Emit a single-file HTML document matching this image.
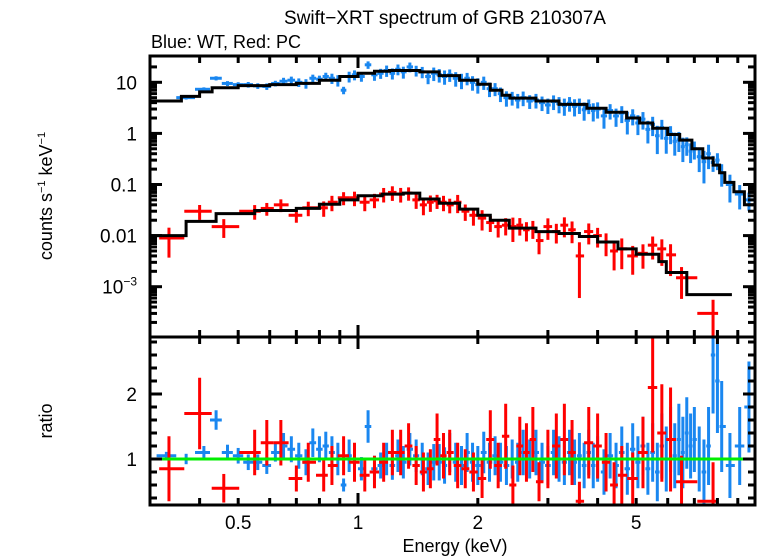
<!DOCTYPE html>
<html><head><meta charset="utf-8"><style>
body{margin:0;background:#fff}
svg{display:block;font-family:"Liberation Sans",sans-serif}
</style></head><body>
<svg id="chart" width="758" height="556" viewBox="0 0 758 556" xmlns="http://www.w3.org/2000/svg">
<defs><clipPath id="c1"><rect x="150" y="56" width="605" height="281"/></clipPath><clipPath id="c2"><rect x="150" y="337" width="605" height="168"/></clipPath></defs>
<text x="445" y="24" font-size="19" text-anchor="middle">Swift−XRT spectrum of GRB 210307A</text>
<text x="151" y="48" font-size="18">Blue: WT, Red: PC</text>
<text transform="translate(52,196) rotate(-90)" font-size="18" text-anchor="middle">counts s<tspan font-size="11" dy="-7">−1</tspan><tspan dy="7"> keV</tspan><tspan font-size="11" dy="-7">−1</tspan></text>
<text transform="translate(52,421) rotate(-90)" font-size="18" text-anchor="middle">ratio</text>
<text x="455" y="552" font-size="18" text-anchor="middle">Energy (keV)</text>
<g id="g"></g>
</svg>
<script>
// ---- data ----
const blueE=[0.33,0.37,0.41,0.44,0.47,0.50,0.53,0.56,0.59,0.62,0.65,0.68,0.71,0.74,0.77,0.80,0.83,0.86,0.89,0.92,0.95,0.98,1.02,1.06,1.10,1.14,1.18,1.22,1.26,1.30,1.35,1.40,1.45,1.50,1.55,1.60,1.65,1.70,1.76,1.82,1.88,1.94,2.0,2.07,2.14,2.21,2.28,2.36,2.44,2.52,2.6,2.7,2.8,2.9,3.0,3.1,3.2,3.3,3.4,3.5,3.6,3.7,3.8,3.9,4.0,4.15,4.3,4.45,4.6,4.75,4.9,5.05,5.2,5.35,5.5,5.65,5.8,5.95,6.1,6.25,6.4,6.55,6.7,6.85,7.0,7.2,7.4,7.6,7.8,8.0,8.2,8.6,9.1,9.6];
const blueV=[4.3,5.0,7.3,12,9.5,9.0,9.0,8.5,8.3,9.5,10.5,11,10,9.5,12,11.5,13,12,11,7,13,14,13,22,14,15,17,15,18,16,20,17,16,13,15,14,13,14,12,11,12,10,9,10,7.5,7.5,6,5,5,4.5,5,4.3,4.5,4,3.6,4.2,3.8,3.5,3.9,3.4,3.6,2.9,3.5,2.8,3.0,2.2,2.8,2.2,2.5,1.8,2.2,1.6,1.9,1.2,1.5,0.9,1.3,0.8,1.0,0.7,0.75,0.55,0.6,0.45,0.5,0.35,0.28,0.4,0.27,0.3,0.17,0.1,0.065,0.05];
const blueR=[1.05,1.0,1.1,1.6,1.1,1.05,0.95,0.95,0.9,1.1,1.2,1.15,1.05,0.95,1.25,1.15,1.2,1.1,1.0,0.6,1.05,1.0,0.85,1.5,0.85,0.9,1.0,0.9,1.05,0.95,1.15,1.05,1.0,0.85,0.95,0.95,0.9,1.1,0.95,0.9,1.1,0.95,0.9,1.1,0.95,1.05,0.95,0.9,1.0,0.95,1.1,1.0,1.1,0.95,0.9,1.1,1.0,0.95,1.1,0.95,1.05,0.9,1.1,0.9,1.0,0.8,1.05,0.9,1.1,0.85,1.15,0.95,1.2,0.85,1.1,0.8,1.2,1.0,1.3,1.05,1.3,1.1,1.4,1.2,1.3,1.0,0.8,1.2,2.6,2.2,1.5,0.9,1.2,1.8];
const blueErr=[0.06,0.08,0.1,0.15,0.12,0.12,0.12,0.12,0.13,0.14,0.2,0.2,0.2,0.2,0.22,0.2,0.22,0.25,0.25,0.1,0.25,0.22,0.18,0.25,0.2,0.2,0.25,0.22,0.25,0.25,0.25,0.25,0.25,0.25,0.28,0.28,0.28,0.3,0.3,0.3,0.3,0.3,0.3,0.32,0.3,0.3,0.3,0.3,0.3,0.3,0.35,0.3,0.35,0.3,0.3,0.35,0.35,0.35,0.35,0.35,0.35,0.35,0.35,0.35,0.35,0.35,0.35,0.35,0.4,0.4,0.4,0.4,0.45,0.4,0.45,0.45,0.5,0.5,0.5,0.5,0.55,0.55,0.55,0.5,0.5,0.5,0.5,0.6,0.9,0.8,0.7,0.5,0.6,0.7];
const redE=[0.335,0.40,0.46,0.55,0.59,0.64,0.70,0.75,0.82,0.86,0.92,0.98,1.04,1.10,1.16,1.22,1.28,1.34,1.40,1.46,1.52,1.58,1.64,1.70,1.78,1.86,1.95,2.05,2.15,2.25,2.35,2.45,2.55,2.65,2.75,2.85,3.0,3.15,3.3,3.45,3.6,3.8,4.0,4.2,4.4,4.6,4.9,5.2,5.5,5.8,6.1,6.5,7.8];
const redV=[0.009,0.03,0.015,0.03,0.034,0.04,0.025,0.035,0.035,0.045,0.055,0.055,0.045,0.05,0.065,0.07,0.065,0.068,0.05,0.04,0.045,0.048,0.045,0.04,0.045,0.03,0.025,0.022,0.018,0.015,0.016,0.015,0.016,0.013,0.014,0.008,0.015,0.012,0.016,0.013,0.004,0.012,0.01,0.0075,0.005,0.0055,0.004,0.0045,0.0065,0.0055,0.0042,0.0015,0.0003];
const redR=[0.85,1.7,0.55,1.1,1.25,1.25,0.7,0.95,0.75,0.9,1.05,0.95,0.75,0.8,0.95,1.1,1.1,1.2,0.9,0.8,0.85,1.3,1.05,1.1,0.9,0.85,0.8,0.7,1.3,0.9,1.35,0.6,1.2,1.1,1.3,0.65,1.0,1.2,1.3,1.1,0.35,1.25,1.2,0.95,0.6,0.75,0.7,1.1,2.1,1.4,1.3,0.65,0.35];
const redErr=[0.5,0.55,0.22,0.35,0.35,0.35,0.2,0.3,0.25,0.3,0.3,0.3,0.25,0.25,0.3,0.35,0.35,0.35,0.3,0.3,0.3,0.4,0.35,0.35,0.35,0.3,0.3,0.3,0.45,0.35,0.5,0.3,0.45,0.45,0.5,0.3,0.45,0.5,0.55,0.5,0.3,0.55,0.5,0.45,0.35,0.45,0.4,0.55,1.0,0.75,0.8,0.4,0.6];
const blueModelE=[0.30,0.36,0.40,0.43,0.50,0.60,0.70,0.80,0.90,1.0,1.1,1.2,1.3,1.43,1.6,1.8,2.0,2.15,2.3,2.41,2.8,3.2,3.76,4.2,4.73,5.1,5.5,6.0,6.43,6.9,7.35,7.8,8.1,8.35,8.8,9.35,10.0];
const blueModelV=[4.3,5.3,6.5,7.8,8.6,9.0,9.5,11,13,15,16.5,17,17,16,13.5,11,9.2,7.0,5.6,4.9,4.3,3.7,3.1,2.6,2.0,1.6,1.26,0.95,0.74,0.5,0.33,0.24,0.17,0.11,0.072,0.04,0.04];
const redModelE=[0.30,0.37,0.44,0.55,0.70,0.80,0.90,1.0,1.15,1.3,1.43,1.6,1.8,2.0,2.15,2.4,2.8,3.2,3.6,4.0,4.5,5.0,5.7,5.95,6.7,8.7];
const redModelV=[0.01,0.019,0.027,0.031,0.034,0.041,0.05,0.06,0.065,0.068,0.052,0.043,0.033,0.025,0.02,0.014,0.012,0.011,0.0096,0.0075,0.0055,0.0043,0.0031,0.0019,0.0007,0.0007];
const xTickLabels=[0.5,1,2,5];
const yTopLabels=["10","1","0.1","0.01"];

// ---- axes ----
const L=150,R=755,T1=56,B1=337,T2=337,B2=505;
const X=e=>358+398*Math.log10(e);
const Y1=v=>82.3-51.1*Math.log10(v/10);
const Y2=r=>459-65*(r-1);
const NS="http://www.w3.org/2000/svg";
const g=document.getElementById('g');
function el(tag,attrs,parent){const e=document.createElementNS(NS,tag);for(const k in attrs)e.setAttribute(k,attrs[k]);(parent||g).appendChild(e);return e;}
function line(x1,y1,x2,y2,c,w,p){return el('line',{x1,y1,x2,y2,stroke:c,'stroke-width':w},p);}
function stepPath(Es,Vs,yf){let d='';for(let i=0;i<Es.length-1;i++){const x1=X(Es[i]),x2=X(Es[i+1]),y=yf(Vs[i]);d+=(i?'L':'M')+x1.toFixed(1)+','+y.toFixed(1)+'L'+x2.toFixed(1)+','+y.toFixed(1);}return d;}
function cross(parent,e,v,lo,hi,ylo,yhi,color,name){
  const grp=el('g',{},parent);
  
  
  line(lo,v,hi,v,color,3,grp);
  line(e,ylo,e,yhi,color,3,grp);
}
function halfW(E,arr,i){const a=i>0?arr[i-1]:E/1.12,b=i<arr.length-1?arr[i+1]:E*1.06;return [Math.sqrt(a*E),Math.sqrt(b*E)];}

const topP=el('g',{'clip-path':'url(#c1)'});


const botP=el('g',{'clip-path':'url(#c2)'});



blueE.forEach((E,i)=>{const [a,b]=halfW(E,blueE,i);const f=blueErr[i]/blueR[i];
  cross(topP,X(E),Y1(blueV[i]),X(a),X(b),Y1(blueV[i]*(1+f)),Y1(Math.max(blueV[i]*(1-f),1e-6)),'#1a87f0','blue-point');
  cross(botP,X(E),Y2(blueR[i]),X(a),X(b),Y2(blueR[i]+blueErr[i]),Y2(blueR[i]-blueErr[i]),'#1a87f0','blue-ratio-point');});
redE.forEach((E,i)=>{const [a,b]=halfW(E,redE,i);const f=Math.min(redErr[i]/redR[i],0.85);
  cross(topP,X(E),Y1(redV[i]),X(a),X(b),Y1(redV[i]*(1+f)),Y1(redV[i]*(1-f)),'#f00','red-point');
  cross(botP,X(E),Y2(redR[i]),X(a),X(b),Y2(redR[i]+redErr[i]),Y2(redR[i]-redErr[i]),'#f00','red-ratio-point');});

const m1=el('path',{d:stepPath(blueModelE,blueModelV,Y1),fill:'none',stroke:'#000','stroke-width':3},topP);


const m2=el('path',{d:stepPath(redModelE,redModelV,Y1),fill:'none',stroke:'#000','stroke-width':3},topP);


const gl=line(L,Y2(1),R,Y2(1),'#00ee00',3,botP);



[[T1,B1],[T2,B2]].forEach(([t,b])=>{const r=el('rect',{x:L,y:t,width:R-L,height:b-t,fill:'none',stroke:'#000','stroke-width':3});
  
  });
for(let d=0.1;d<=10;d*=10){for(let k=1;k<10;k++){const e=d*k;const x=X(e);if(x<L+2||x>R-2)continue;const len=(k===1)?12:7;
  [T1,B1,T2,B2].forEach((y,j)=>{const dir=(j%2===0)?1:-1;line(x,y,x,y+dir*len,'#000',3);});}}
xTickLabels.forEach(v=>{const t=el('text',{x:X(v),y:529,'font-size':19,'text-anchor':'middle'});t.textContent=String(v);
  
  });
for(let p=-4;p<=1;p++){for(let k=1;k<10;k++){const v=k*Math.pow(10,p);const y=Y1(v);if(y<T1+2||y>B1-2)continue;const len=k===1?12:7;
  line(L,y,L+len,y,'#000',3);line(R,y,R-len,y,'#000',3);}}
yTopLabels.forEach(s=>{const t=el('text',{x:137,y:Y1(parseFloat(s))+7,'font-size':19,'text-anchor':'end'});t.textContent=s;
  
  });
{const t=el('text',{x:137,y:Y1(0.001)+7,'font-size':19,'text-anchor':'end'});t.innerHTML='10<tspan font-size="12" dy="-8">−3</tspan>';
  
  }
for(let r=0.4;r<=2.81;r+=0.2){const y=Y2(r);const major=Math.abs(r-1)<0.01||Math.abs(r-2)<0.01;const len=major?12:7;
  line(L,y,L+len,y,'#000',3);line(R,y,R-len,y,'#000',3);}
["1","2"].forEach(s=>{const t=el('text',{x:137,y:Y2(parseFloat(s))+7,'font-size':19,'text-anchor':'end'});t.textContent=s;
  
  });
</script>
</body></html>
